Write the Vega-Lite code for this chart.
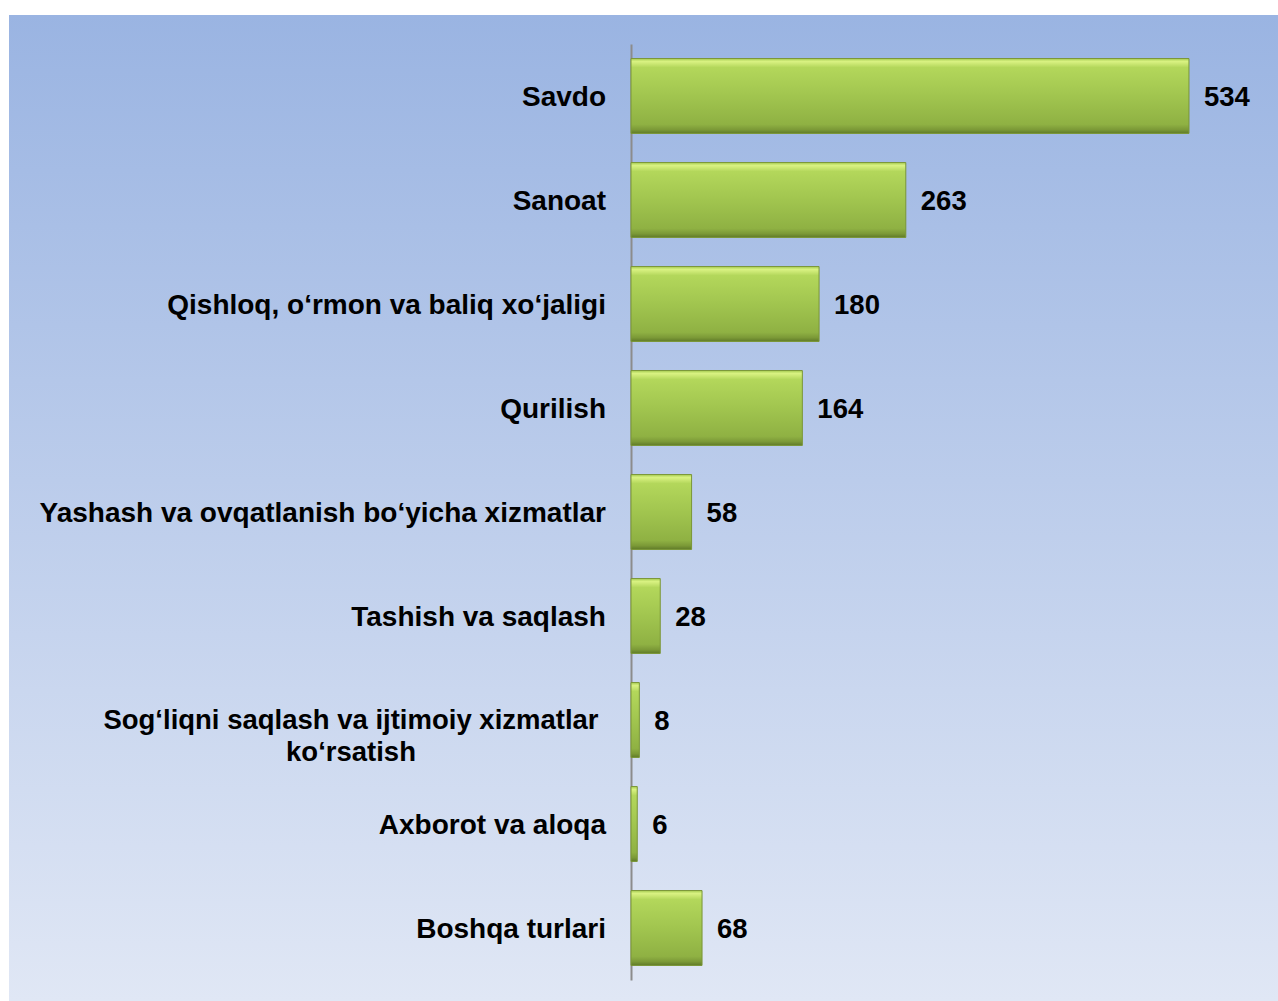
{
  "$schema": "https://vega.github.io/schema/vega-lite/v6.json",
  "width": 1269,
  "height": 986,
  "autosize": {"type": "none"},
  "padding": {"left": 9, "top": 15, "right": 0, "bottom": 0},
  "background": "white",
  "config": {
    "font": "Liberation Sans",
    "view": {
      "stroke": null,
      "fill": {"gradient": "linear", "x1": 0, "y1": 0, "x2": 0, "y2": 1,
        "stops": [{"offset": 0, "color": "#9ab4e2"}, {"offset": 1, "color": "#e0e7f5"}]}
    }
  },
  "data": {
    "values": [
      {"label": "Savdo", "value": 534},
      {"label": "Sanoat", "value": 263},
      {"label": "Qishloq, o‘rmon va baliq xo‘jaligi", "value": 180},
      {"label": "Qurilish", "value": 164},
      {"label": "Yashash va ovqatlanish bo‘yicha xizmatlar", "value": 58},
      {"label": "Tashish va saqlash", "value": 28},
      {"label": "Sog‘liqni saqlash va ijtimoiy xizmatlar\nko‘rsatish", "value": 8},
      {"label": "Axborot va aloqa", "value": 6},
      {"label": "Boshqa turlari", "value": 68}
    ]
  },
  "encoding": {
    "y": {
      "field": "label", "type": "nominal", "sort": null,
      "scale": {
        "domain": ["Savdo", "Sanoat", "Qishloq, o‘rmon va baliq xo‘jaligi", "Qurilish", "Yashash va ovqatlanish bo‘yicha xizmatlar", "Tashish va saqlash", "Sog‘liqni saqlash va ijtimoiy xizmatlar\nko‘rsatish", "Axborot va aloqa", "Boshqa turlari"],
        "range": [29, 965], "paddingInner": 0.28, "paddingOuter": 0.14
      },
      "axis": {"title": null, "labels": false, "ticks": false, "grid": false, "domain": true, "domainColor": "#8c8c8c", "domainWidth": 2, "offset": -622}
    }
  },
  "layer": [
    {
      "mark": {
        "type": "bar",
        "color": {"gradient": "linear", "x1": 0, "y1": 0, "x2": 0, "y2": 1,
          "stops": [
            {"offset": 0, "color": "#a9cf55"},
            {"offset": 0.04, "color": "#d9f282"},
            {"offset": 0.12, "color": "#b3d75b"},
            {"offset": 0.5, "color": "#a1c54f"},
            {"offset": 0.88, "color": "#8fb143"},
            {"offset": 0.95, "color": "#7b9937"},
            {"offset": 1, "color": "#5f7a28"}
          ]},
        "stroke": "#7a9636", "strokeWidth": 1
      },
      "encoding": {
        "x": {"field": "value", "type": "quantitative", "scale": {"domain": [-595.25, 619.2], "nice": false, "zero": false}, "axis": null},
        "x2": {"datum": 0}
      }
    },
    {
      "mark": {"type": "text", "align": "left", "baseline": "middle", "dx": 15, "dy": 2, "fontSize": 27.5, "fontWeight": "bold", "color": "#000000"},
      "encoding": {
        "x": {"field": "value", "type": "quantitative"},
        "text": {"field": "value", "type": "quantitative"}
      }
    },
    {
      "transform": [{"filter": "!test(/\\n/, datum.label)"}],
      "mark": {"type": "text", "align": "right", "baseline": "middle", "dx": -25, "dy": 2, "fontSize": 28, "fontWeight": "bold", "color": "#000000"},
      "encoding": {
        "x": {"datum": 0, "type": "quantitative"},
        "text": {"field": "label", "type": "nominal"}
      }
    },
    {
      "transform": [{"filter": "test(/\\n/, datum.label)"}],
      "mark": {"type": "text", "align": "center", "baseline": "middle", "lineBreak": "\n", "lineHeight": 32, "dx": -280, "dy": 1, "fontSize": 27.5, "fontWeight": "bold", "color": "#000000"},
      "encoding": {
        "x": {"datum": 0, "type": "quantitative"},
        "text": {"field": "label", "type": "nominal"}
      }
    }
  ]
}
